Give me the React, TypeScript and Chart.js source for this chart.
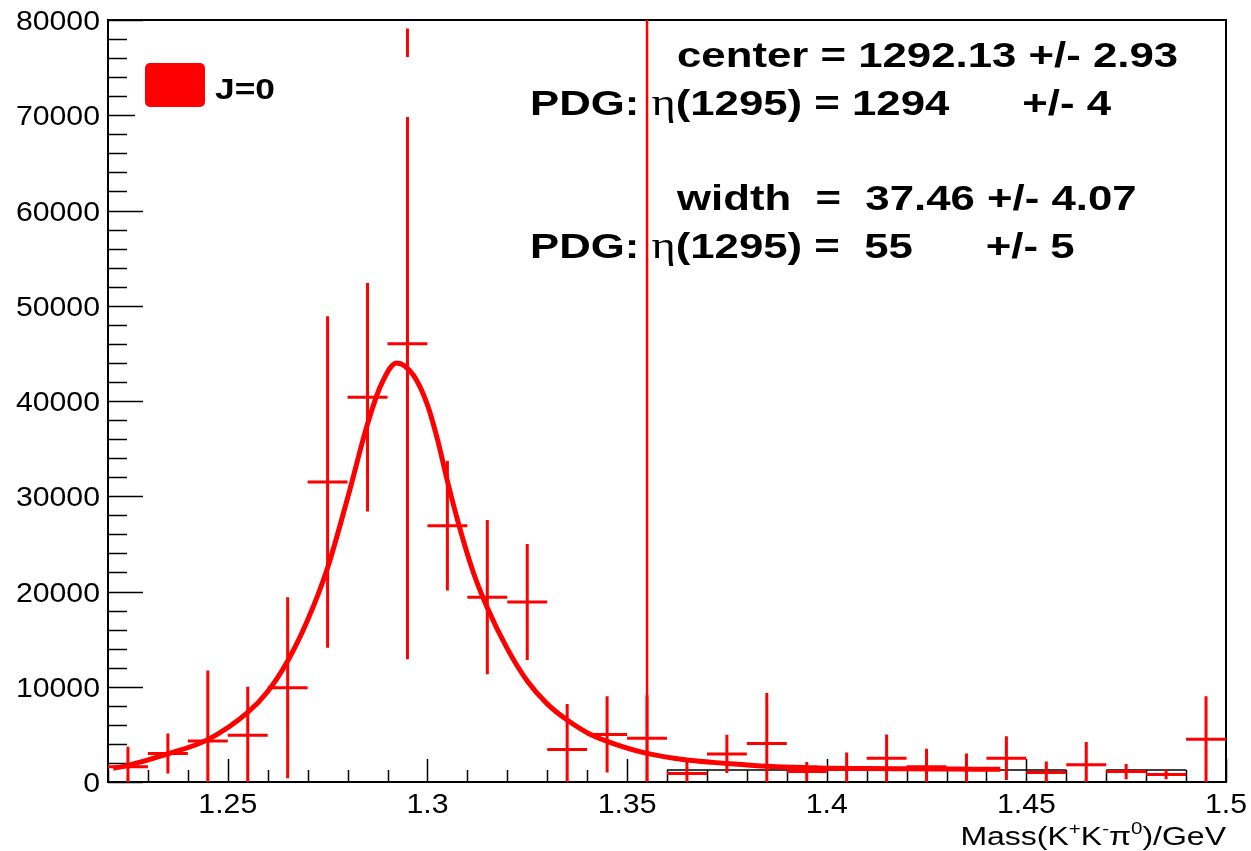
import React, { useEffect, useRef } from "react";
import { Chart, registerables } from "chart.js";

Chart.register(...registerables);

// ---------- data ----------
const binCenters = [
  1.225, 1.235, 1.245, 1.255, 1.265, 1.275, 1.285, 1.295, 1.305, 1.315,
  1.325, 1.335, 1.345, 1.355, 1.365, 1.375, 1.385, 1.395, 1.405, 1.415,
  1.425, 1.435, 1.445, 1.455, 1.465, 1.475, 1.485, 1.495,
];
const counts = [
  1600, 3000, 4300, 4900, 9900, 31500, 40400, 46000, 26900, 19400,
  18900, 3400, 5000, 4600, 900, 2950, 4050, 1100, 1500, 2500,
  1600, 1400, 2500, 1000, 1800, 1100, 800, 4500,
];
const countErrors = [
  2100, 2100, 7400, 5100, 9500, 17400, 12000, 33100, 6800, 8100,
  6100, 4800, 4000, 4500, 1600, 2000, 5300, 1000, 1600, 2500,
  1900, 1600, 2300, 1150, 2400, 800, 500, 4500,
];
const binWidth = 0.01;

const fitX = [
  1.2213, 1.225, 1.235, 1.245, 1.255, 1.26, 1.265, 1.27, 1.275, 1.28,
  1.285, 1.2885, 1.2923, 1.2965, 1.3, 1.3025, 1.305, 1.308, 1.3115, 1.315,
  1.32, 1.325, 1.33, 1.335, 1.341, 1.3475, 1.355, 1.365, 1.375, 1.385,
  1.398, 1.41, 1.42, 1.432, 1.4435,
];
const fitY = [
  1430, 1750, 2950, 4450, 7300, 9500, 12700, 17000, 22500, 29800,
  37600, 41800, 44000, 42700, 39600, 36000, 31600, 26800, 22000, 18300,
  14000, 10600, 8200, 6500, 4950, 3900, 3000, 2300, 1950, 1650,
  1480, 1420, 1390, 1360, 1330,
];

// faint black histogram visible under the tail
const blackBinCenters = [1.365, 1.375, 1.385, 1.395, 1.405, 1.415, 1.425, 1.435, 1.445, 1.455, 1.465, 1.475, 1.485];
const blackValues = [1260, 1260, 1260, 1260, 1260, 1260, 1260, 1260, 1260, 1260, null, 1260, 1260];

const pdgMarker = 1.355;

const xTickValues = [1.25, 1.3, 1.35, 1.4, 1.45, 1.5];
const xTickLabels = ["1.25", "1.3", "1.35", "1.4", "1.45", "1.5"];
const yTickValues = [0, 10000, 20000, 30000, 40000, 50000, 60000, 70000, 80000];
const yTickLabels = ["0", "10000", "20000", "30000", "40000", "50000", "60000", "70000", "80000"];
const xMinorStep = 0.01;
const yMinorStep = 2000;

const legendLabel = "J=0";

const RED = "#ff0000";

// annotation lines: pieces [text, serif?], start x, baseline
const annotationLines: { x: number; y: number; pieces: [string, boolean][] }[] = [
  { x: 677, y: 67, pieces: [["center = 1292.13 +/- 2.93", false]] },
  { x: 530, y: 115, pieces: [["PDG: ", false], ["\u03b7", true], ["(1295) = 1294      +/- 4", false]] },
  { x: 677, y: 210, pieces: [["width  =  37.46 +/- 4.07", false]] },
  { x: 530, y: 258, pieces: [["PDG: ", false], ["\u03b7", true], ["(1295) =  55      +/- 5", false]] },
];

function drawText(
  ctx: CanvasRenderingContext2D,
  text: string,
  x: number,
  y: number,
  font: string,
  sx: number,
  align: "left" | "right" | "center" = "left"
) {
  ctx.save();
  ctx.font = font;
  const w = ctx.measureText(text).width * sx;
  const x0 = align === "right" ? x - w : align === "center" ? x - w / 2 : x;
  ctx.translate(x0, y);
  ctx.scale(sx, 1);
  ctx.textAlign = "left";
  ctx.textBaseline = "alphabetic";
  ctx.fillStyle = "#000";
  ctx.fillText(text, 0, 0);
  ctx.restore();
  return w;
}

const rootPlugin = {
  id: "rootStyle",
  beforeDatasetsDraw(chart: any) {
    const ctx: CanvasRenderingContext2D = chart.ctx;
    const { left, right, top, bottom } = chart.chartArea;
    const xs = chart.scales.x;
    const ys = chart.scales.y;
    ctx.save();
    ctx.strokeStyle = "#000";
    ctx.lineWidth = 2;
    ctx.strokeRect(left, top, right - left, bottom - top);
    ctx.lineWidth = 1.5;
    ctx.beginPath();
    for (let v = xs.min; v <= xs.max + 1e-9; v += xMinorStep) {
      const px = Math.round(xs.getPixelForValue(v)) + 0.5;
      const isMajor = xTickValues.some((t) => Math.abs(t - v) < 1e-6);
      const len = isMajor ? 23 : 12;
      ctx.moveTo(px, bottom);
      ctx.lineTo(px, bottom - len);
    }
    for (let v = ys.min; v <= ys.max + 1e-9; v += yMinorStep) {
      const py = Math.round(ys.getPixelForValue(v)) + 0.5;
      const isMajor = yTickValues.some((t) => Math.abs(t - v) < 1e-6);
      const len = isMajor ? 35 : 19;
      ctx.moveTo(left, py);
      ctx.lineTo(left + len, py);
    }
    ctx.stroke();
    ctx.restore();

    const tickFont = "28px 'Liberation Sans', Arial, sans-serif";
    xTickValues.forEach((v, i) => {
      drawText(ctx, xTickLabels[i], xs.getPixelForValue(v), bottom + 31, tickFont, 1.08, "center");
    });
    yTickValues.forEach((v, i) => {
      drawText(ctx, yTickLabels[i], left - 8, ys.getPixelForValue(v) + 10, tickFont, 1.08, "right");
    });

    // axis title: Mass(K+K-pi0)/GeV, right aligned
    const tf = "25px 'Liberation Sans', Arial, sans-serif";
    const sf = "16px 'Liberation Sans', Arial, sans-serif";
    const parts: [string, boolean][] = [
      ["Mass(K", false], ["+", true], ["K", false], ["-", true], ["\u03c0", false], ["0", true], [")/GeV", false],
    ];
    const sx = 1.28;
    let total = 0;
    ctx.save();
    parts.forEach(([t, sup]) => {
      ctx.font = sup ? sf : tf;
      total += ctx.measureText(t).width * sx;
    });
    ctx.restore();
    let cx = right - total;
    const by = 845;
    parts.forEach(([t, sup]) => {
      cx += drawText(ctx, t, cx, sup ? by - 11 : by, sup ? sf : tf, sx);
    });
  },
  afterDatasetDraw(chart: any, args: any) {
    const ds = chart.data.datasets[args.index];
    if (!ds || !ds.errorBars) return;
    const ctx: CanvasRenderingContext2D = chart.ctx;
    const xs = chart.scales.x;
    const ys = chart.scales.y;
    const { left, right, top, bottom } = chart.chartArea;
    ctx.save();
    ctx.beginPath();
    ctx.rect(left, top, right - left, bottom - top);
    ctx.clip();
    ctx.strokeStyle = RED;
    ctx.lineWidth = 3;
    ctx.beginPath();
    ds.data.forEach((p: any, i: number) => {
      const e = ds.errorBars[i];
      const px = xs.getPixelForValue(p.x);
      const py = ys.getPixelForValue(p.y);
      const x0 = xs.getPixelForValue(p.x - binWidth / 2);
      const x1 = xs.getPixelForValue(p.x + binWidth / 2);
      ctx.moveTo(x0, py);
      ctx.lineTo(x1, py);
      ctx.moveTo(px, ys.getPixelForValue(Math.max(0, p.y - e)));
      ctx.lineTo(px, ys.getPixelForValue(p.y + e));
    });
    ctx.stroke();
    ctx.restore();
  },
  afterDatasetsDraw(chart: any) {
    const ctx: CanvasRenderingContext2D = chart.ctx;
    const xs = chart.scales.x;
    const ys = chart.scales.y;
    ctx.save();
    ctx.strokeStyle = RED;
    ctx.lineWidth = 2.5;
    ctx.beginPath();
    const mx = xs.getPixelForValue(pdgMarker);
    ctx.moveTo(mx, ys.getPixelForValue(ys.min));
    ctx.lineTo(mx, ys.getPixelForValue(ys.max));
    ctx.stroke();

    // legend box (white, no border)
    ctx.fillStyle = "#fff";
    ctx.fillRect(135, 57, 295, 60);
    ctx.fillStyle = RED;
    ctx.beginPath();
    const r = 5;
    const bx = 145, byy = 63, bw = 60, bh = 44;
    ctx.moveTo(bx + r, byy);
    ctx.arcTo(bx + bw, byy, bx + bw, byy + bh, r);
    ctx.arcTo(bx + bw, byy + bh, bx, byy + bh, r);
    ctx.arcTo(bx, byy + bh, bx, byy, r);
    ctx.arcTo(bx, byy, bx + bw, byy, r);
    ctx.closePath();
    ctx.fill();
    ctx.restore();
    drawText(ctx, legendLabel, 215, 99, "bold 29px 'Liberation Sans', Arial, sans-serif", 1.22);

    const boldFont = "bold 35px 'Liberation Sans', Arial, sans-serif";
    const serifFont = "37px 'Liberation Serif', 'DejaVu Serif', serif";
    const sx = 1.25;
    annotationLines.forEach((line) => {
      let x = line.x;
      line.pieces.forEach(([t, serif]) => {
        x += drawText(ctx, t, x, line.y, serif ? serifFont : boldFont, sx);
      });
    });
  },
};

export default function App() {
  const canvasRef = useRef<HTMLCanvasElement | null>(null);

  useEffect(() => {
    const canvas = canvasRef.current;
    if (!canvas) return;

    const blackData: any[] = [];
    blackBinCenters.forEach((c, i) => {
      const v = blackValues[i];
      if (v === null) {
        blackData.push({ x: c, y: null });
        return;
      }
      blackData.push({ x: c - binWidth / 2, y: v });
      blackData.push({ x: c + binWidth / 2, y: v });
      blackData.push({ x: c + binWidth / 2, y: null });
    });

    const chart = new Chart(canvas, {
      type: "scatter",
      data: {
        datasets: [
          {
            label: "fit",
            type: "line",
            data: fitX.map((x, i) => ({ x, y: fitY[i] })),
            borderColor: RED,
            borderWidth: 5,
            pointRadius: 0,
            fill: false,
            cubicInterpolationMode: "monotone",
            order: 1,
          } as any,
          {
            label: legendLabel,
            data: binCenters.map((x, i) => ({ x, y: counts[i] })),
            errorBars: countErrors,
            pointRadius: 0,
            showLine: false,
            borderColor: RED,
            backgroundColor: RED,
            order: 2,
          } as any,
          {
            label: "hist",
            type: "line",
            data: blackData,
            borderColor: "#000",
            borderWidth: 1.5,
            pointRadius: 0,
            spanGaps: false,
            fill: false,
            order: 3,
          } as any,
        ],
      },
      options: {
        animation: false,
        responsive: false,
        events: [],
        layout: { padding: { left: 0, top: 20, right: 25, bottom: 0 } },
        plugins: {
          legend: { display: false },
          tooltip: { enabled: false },
        },
        scales: {
          x: {
            type: "linear",
            min: 1.22,
            max: 1.5,
            afterBuildTicks: (s: any) => {
              s.ticks = xTickValues.map((v) => ({ value: v }));
            },
            ticks: { display: false },
            grid: { display: false, drawTicks: false },
            border: { display: false },
            afterFit: (s: any) => {
              s.height = 69;
            },
          },
          y: {
            type: "linear",
            min: 0,
            max: 80000,
            afterBuildTicks: (s: any) => {
              s.ticks = yTickValues.map((v) => ({ value: v }));
            },
            ticks: { display: false },
            grid: { display: false, drawTicks: false },
            border: { display: false },
            afterFit: (s: any) => {
              s.width = 108;
            },
          },
        },
      } as any,
      plugins: [rootPlugin as any],
    });

    return () => chart.destroy();
  }, []);

  return (
    <div style={{ position: "fixed", left: 0, top: 0, width: 1251, height: 851, background: "#fff" }}>
      <canvas ref={canvasRef} width={1251} height={851} style={{ display: "block" }} />
    </div>
  );
}
